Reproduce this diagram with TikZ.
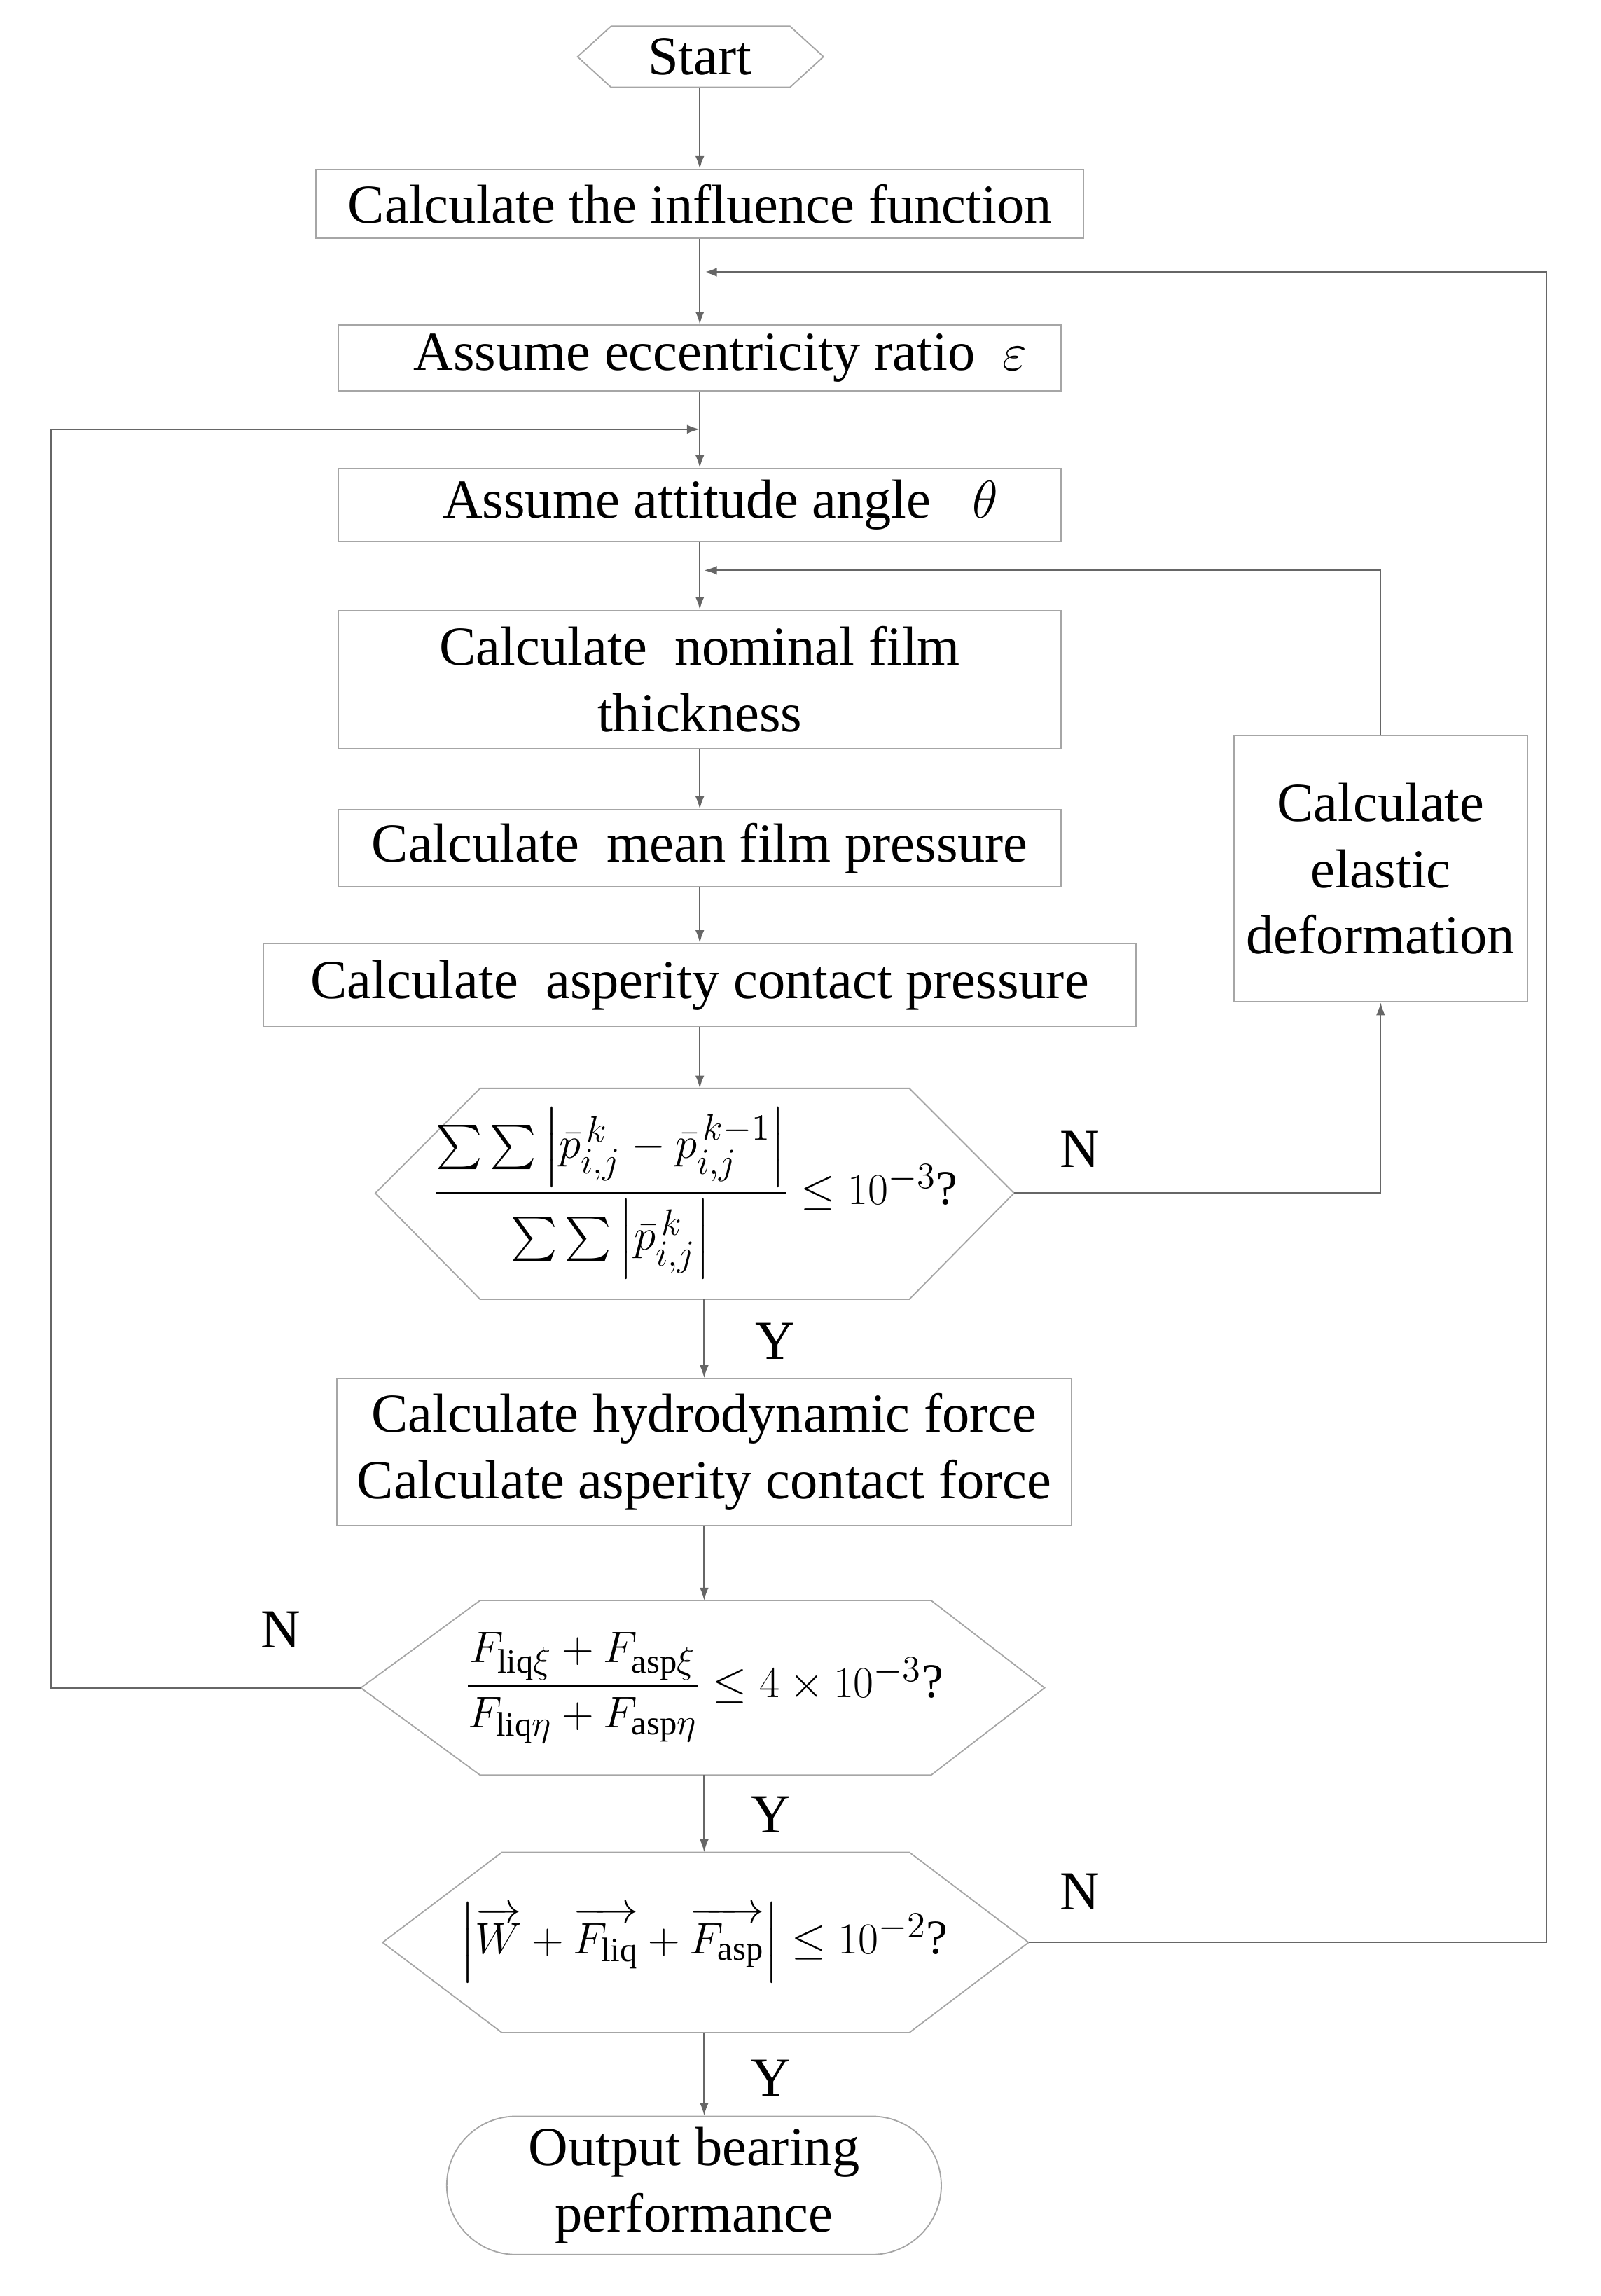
\documentclass[tikz,border=0pt]{standalone}
\usepackage{amsmath}
\usepackage{fontspec}
\setmainfont{Liberation Serif}
\usetikzlibrary{arrows.meta,shapes.misc}
\begin{document}
\begin{tikzpicture}[x=0.02cm,y=-0.02cm,
  txt/.style={font=\fontsize{21.5}{26}\selectfont},
  mtxt/.style={font=\fontsize{19}{23}\selectfont},
  box/.style={draw=black!35,line width=0.5pt,txt,align=center,inner sep=0pt},
  ln/.style={draw=black!60,line width=0.6pt},
  ar/.style={ln,-{Latex[length=5pt,width=3.5pt]}},
  lab/.style={txt}]
\useasboundingbox (0,0) rectangle (1100,1578);
% start
\draw[box] (397,39) -- (420,18) -- (543,18) -- (566,39) -- (543,60) -- (420,60) -- cycle;
\node[txt] (start) at (481,39) {Start};
\coordinate (startb) at (481,60);
\node[box,minimum width=10.56cm,minimum height=0.94cm] (b1) at (481,140) {Calculate the influence function};
\node[box,minimum width=9.94cm,minimum height=0.9cm] (b2) at (481,246) {\ \ \ Assume eccentricity ratio \ $\varepsilon$};
\node[box,minimum width=9.94cm,minimum height=1.0cm] (b3) at (481,347) {\ \ \ Assume attitude angle \ \ $\theta$};
\node[box,minimum width=9.94cm,minimum height=1.9cm] (b4) at (481,467) {Calculate \ nominal film\\thickness};
\node[box,minimum width=9.94cm,minimum height=1.06cm] (b5) at (481,583) {Calculate \ mean film pressure};
\node[box,minimum width=12cm,minimum height=1.14cm] (b6) at (481,677) {Calculate \ asperity contact pressure};
% hex1
\draw[box] (258,820) -- (330,748) -- (625,748) -- (697,820) -- (625,893) -- (330,893) -- cycle;
\node[mtxt] (h1) at (478,820) {$\dfrac{\sum\sum\left|\bar p^{\,k}_{i,j}-\bar p^{\,k-1}_{i,j}\right|}{\sum\sum\left|\bar p^{\,k}_{i,j}\right|}\le 10^{-3}$?};
\coordinate (h1t) at (481,748); \coordinate (h1b) at (484,893);
\coordinate (h1r) at (697,820);
\node[box,minimum width=10.1cm,minimum height=2.02cm] (b7) at (484,998) {Calculate hydrodynamic force\\Calculate asperity contact force};
% hex2
\draw[box] (248,1160) -- (330,1100) -- (640,1100) -- (718,1160) -- (640,1220) -- (330,1220) -- cycle;
\node[mtxt] (h2) at (484,1160) {$\dfrac{F_{\mathrm{liq}\xi}+F_{\mathrm{asp}\xi}}{F_{\mathrm{liq}\eta}+F_{\mathrm{asp}\eta}}\le 4\times10^{-3}$?};
\coordinate (h2t) at (484,1100); \coordinate (h2b) at (484,1220); \coordinate (h2l) at (248,1160);
% hex3
\draw[box] (263,1335) -- (345,1273) -- (625,1273) -- (707,1335) -- (625,1397) -- (345,1397) -- cycle;
\node[mtxt] (h3) at (484,1335) {$\left|\overrightarrow{W}+\overrightarrow{F_{\mathrm{liq}}}+\overrightarrow{F_{\mathrm{asp}}}\right|\le 10^{-2}$?};
\coordinate (h3t) at (484,1273); \coordinate (h3b) at (484,1397); \coordinate (h3r) at (707,1335);
\node[box,rounded rectangle,minimum width=6.8cm,minimum height=1.9cm] (end) at (477,1502) {Output bearing\\performance};
\node[box,minimum width=4.04cm,minimum height=3.66cm] (el) at (949,597) {Calculate\\elastic\\deformation};
% main flow
\draw[ar] (startb) -- (b1);
\draw[ar] (b1.south) -- (b2.north);
\draw[ar] (b2.south) -- (b3.north);
\draw[ar] (b3.south) -- (b4.north);
\draw[ar] (b4.south) -- (b5.north);
\draw[ar] (b5.south) -- (b6.north);
\draw[ar] (b6.south) -- (h1t);
\draw[ar] (h1b) -- (b7.north);
\draw[ar] (b7.south) -- (h2t);
\draw[ar] (h2b) -- (h3t);
\draw[ar] (h3b) -- (end.north -| h3b);
% loops
\coordinate (m1) at (484,392); \coordinate (m2) at (481,295); \coordinate (m3) at (484,187);
\draw[ar] (h1r) -| (el.south);
\draw[ar] (el.north) |- (m1);
\draw[ar] (h2l) -- (35,1160) |- (m2);
\draw[ar] (h3r) -- (1063,1335) |- (m3);
% labels
\node[lab] (n1) at (742,790) {N};
\node[lab] (y1) at (533,922) {Y};
\node[lab] (n2) at (193,1120) {N};
\node[lab] (y2) at (530,1247) {Y};
\node[lab] (n3) at (742,1300) {N};
\node[lab] (y3) at (530,1428) {Y};
\end{tikzpicture}
\end{document}
